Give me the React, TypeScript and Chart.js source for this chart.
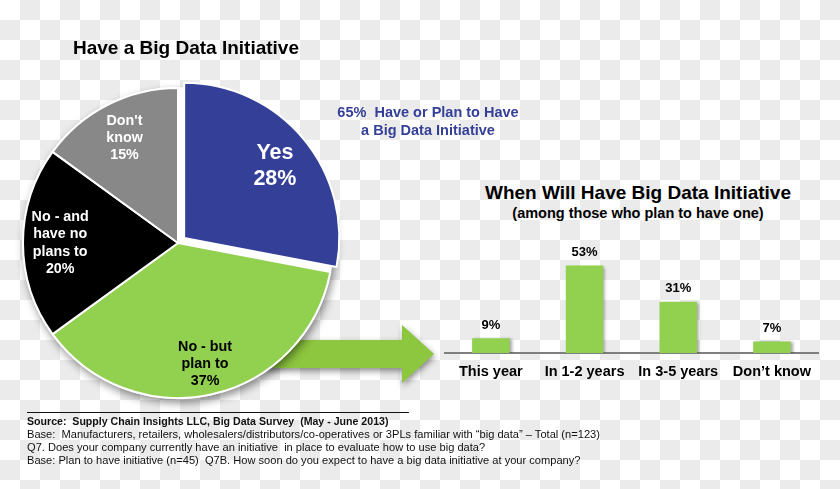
import React, { useEffect, useRef } from "react";
import { Chart, registerables } from "chart.js";

Chart.register(...registerables);

const FONT = '"Liberation Sans", Arial, Helvetica, sans-serif';

// ---- Pie data ----
const pieCategories = ["Yes", "No - but plan to", "No - and have no plans to", "Don't know"];
const pieValues = [28, 37, 20, 15];
const pieLabelLines = [["Yes"], ["No - but", "plan to"], ["No - and", "have no", "plans to"], ["Don't", "know"]];
const pieColors = ["#343F97", "#92D050", "#000000", "#888888"];
const pieTextColors = ["#ffffff", "#000000", "#ffffff", "#ffffff"];
const pieExplode = [8, 0, 0, 0]; // visible px shift of each slice
const pieLabelRadius = [0.76, 0.8, 0.76, 0.76];
const pieLabelShiftY = [3, 0, 0, 0];

// ---- Bar data ----
const barCategories = ["This year", "In 1-2 years", "In 3-5 years", "Don\u2019t know"];
const barValues = [9, 53, 31, 7];
const barColor = "#92D050";
const barAxisMax = 60;

// ---- Texts ----
const pieTitle = "Have a Big Data Initiative";
const annotationLines = ["65%\u00a0 Have or Plan to Have", "a Big Data Initiative"];
const barTitle = "When Will Have Big Data Initiative";
const barSubtitle = "(among those who plan to have one)";
const sourceTitle = "Source:\u00a0 Supply Chain Insights LLC, Big Data Survey\u00a0 (May - June 2013)";
const sourceLines = [
  "Base:\u00a0 Manufacturers, retailers, wholesalers/distributors/co-operatives or 3PLs familiar with \u201cbig data\u201d \u2013 Total (n=123)",
  "Q7. Does your company currently have an initiative\u00a0 in place to evaluate how to use big data?",
  "Base: Plan to have initiative (n=45)\u00a0 Q7B. How soon do you expect to have a big data initiative at your company?",
];

const piePlugin = {
  id: "pieDecor",
  beforeDatasetsDraw(chart: any) {
    const meta = chart.getDatasetMeta(0);
    const el = meta.data[1];
    if (!el) return;
    const { x, y, outerRadius } = el.getProps(["x", "y", "outerRadius"], true);
    const ctx = chart.ctx;
    ctx.save();
    ctx.shadowColor = "rgba(0,0,0,0.45)";
    ctx.shadowBlur = 8;
    ctx.shadowOffsetX = 2;
    ctx.shadowOffsetY = 4;
    ctx.beginPath();
    ctx.arc(x, y, outerRadius + 1, 0, Math.PI * 2);
    ctx.fillStyle = "#ffffff";
    ctx.fill();
    ctx.restore();
  },
  afterDatasetsDraw(chart: any) {
    const meta = chart.getDatasetMeta(0);
    const ctx = chart.ctx;
    meta.data.forEach((el: any, i: number) => {
      const { x, y, startAngle, endAngle, outerRadius } = el.getProps(
        ["x", "y", "startAngle", "endAngle", "outerRadius"],
        true
      );
      const mid = (startAngle + endAngle) / 2;
      const r = outerRadius * pieLabelRadius[i] + pieExplode[i];
      const cx = x + Math.cos(mid) * r;
      const cy = y + Math.sin(mid) * r + pieLabelShiftY[i];
      const lines = [...pieLabelLines[i], pieValues[i] + "%"];
      const big = i === 0;
      const fs = big ? 21.5 : 14.3;
      const lh = big ? 26 : 17.3;
      ctx.save();
      ctx.font = `bold ${fs}px ${FONT}`;
      ctx.fillStyle = pieTextColors[i];
      ctx.textAlign = "center";
      ctx.textBaseline = "middle";
      lines.forEach((t, k) => ctx.fillText(t, cx, cy + (k - (lines.length - 1) / 2) * lh));
      ctx.restore();
    });
  },
};

const barPlugin = {
  id: "barDecor",
  beforeDatasetsDraw(chart: any) {
    const ctx = chart.ctx;
    ctx.save();
    ctx.shadowColor = "rgba(0,0,0,0.35)";
    ctx.shadowBlur = 3;
    ctx.shadowOffsetX = 2;
    ctx.shadowOffsetY = 1;
  },
  afterDatasetsDraw(chart: any) {
    const ctx = chart.ctx;
    ctx.restore();
    const meta = chart.getDatasetMeta(0);
    ctx.save();
    ctx.font = `bold 13px ${FONT}`;
    ctx.fillStyle = "#000";
    ctx.textAlign = "center";
    ctx.textBaseline = "middle";
    meta.data.forEach((bar: any, i: number) => {
      const { x, y } = bar.getProps(["x", "y"], true);
      ctx.fillText(barValues[i] + "%", x, y - 13);
    });
    ctx.restore();
  },
};

function PieChart() {
  const ref = useRef<HTMLCanvasElement>(null);
  useEffect(() => {
    const chart = new Chart(ref.current!, {
      type: "pie",
      data: {
        labels: pieCategories,
        datasets: [
          {
            data: pieValues,
            backgroundColor: pieColors,
            borderColor: "#ffffff",
            borderWidth: 2,
            // Chart.js 4 translates an arc by offset / 4
            offset: pieExplode.map((v) => v * 4),
          } as any,
        ],
      },
      options: {
        responsive: false,
        animation: false,
        devicePixelRatio: 1,
        events: [],
        radius: 155,
        layout: { padding: 0 },
        plugins: { legend: { display: false }, tooltip: { enabled: false } },
      } as any,
      plugins: [piePlugin],
    });
    return () => chart.destroy();
  }, []);
  return (
    <canvas
      ref={ref}
      width={356}
      height={406}
      style={{ position: "absolute", left: 0, top: 40, width: 356, height: 406, zIndex: 1 }}
    />
  );
}

function BarChart() {
  const ref = useRef<HTMLCanvasElement>(null);
  useEffect(() => {
    const chart = new Chart(ref.current!, {
      type: "bar",
      data: {
        labels: barCategories,
        datasets: [
          {
            data: barValues,
            backgroundColor: barColor,
            borderWidth: 0,
            barPercentage: 0.4,
            categoryPercentage: 1,
          },
        ],
      },
      options: {
        responsive: false,
        animation: false,
        devicePixelRatio: 1,
        events: [],
        layout: { padding: { top: 24, left: 0, right: 0, bottom: 0 } },
        plugins: { legend: { display: false }, tooltip: { enabled: false }, title: { display: false } },
        scales: {
          x: {
            grid: { display: false, drawTicks: false },
            border: { display: true, color: "#7f7f7f", width: 2 },
            ticks: {
              color: "#000",
              padding: 10,
              maxRotation: 0,
              autoSkip: false,
              font: { family: FONT, size: 14.5, weight: "bold" },
            },
            afterFit: (scale: any) => {
              scale.height = 30;
            },
          },
          y: { display: false, min: 0, max: barAxisMax },
        },
      } as any,
      plugins: [barPlugin],
    });
    return () => chart.destroy();
  }, []);
  return (
    <canvas
      ref={ref}
      width={377}
      height={153}
      style={{ position: "absolute", left: 444, top: 230, width: 377, height: 153, zIndex: 1 }}
    />
  );
}

export default function App() {
  const text = (s: React.CSSProperties): React.CSSProperties => ({
    position: "absolute",
    fontFamily: FONT,
    whiteSpace: "nowrap",
    zIndex: 2,
    ...s,
  });
  return (
    <div
      style={{
        position: "absolute",
        left: 0,
        top: 0,
        width: 840,
        height: 489,
        overflow: "hidden",
        backgroundColor: "#ffffff",
        backgroundImage:
          "conic-gradient(#ebebeb 25%, transparent 0 50%, #ebebeb 0 75%, transparent 0)",
        backgroundSize: "40px 40px",
      }}
    >
      <svg
        width={840}
        height={489}
        style={{
          position: "absolute",
          left: 0,
          top: 0,
          zIndex: 0,
          filter: "drop-shadow(1px 3px 3px rgba(0,0,0,0.45))",
        }}
      >
        <polygon points="265,340 402,340 402,325 434,354 402,383 402,368 265,368" fill="#8DC63F" />
      </svg>
      <PieChart />
      <BarChart />
      <div style={text({ left: 0, width: 372, top: 37, fontSize: 19, lineHeight: "22px", fontWeight: "bold", textAlign: "center", color: "#000" })}>
        {pieTitle}
      </div>
      <div style={text({ left: 328, width: 200, top: 103, fontSize: 14.5, lineHeight: "18px", fontWeight: "bold", textAlign: "center", color: "#343F97" })}>
        {annotationLines.map((l, i) => (
          <div key={i}>{l}</div>
        ))}
      </div>
      <div style={text({ left: 438, width: 400, top: 182, fontSize: 19, lineHeight: "22px", fontWeight: "bold", textAlign: "center", color: "#000" })}>
        {barTitle}
      </div>
      <div style={text({ left: 438, width: 400, top: 204.5, fontSize: 14.5, lineHeight: "17px", fontWeight: "bold", textAlign: "center", color: "#000" })}>
        {barSubtitle}
      </div>
      <div style={{ position: "absolute", left: 27, top: 412, width: 382, height: 1, background: "#111", zIndex: 2 }} />
      <div style={text({ left: 27, top: 414.5, fontSize: 10.6, lineHeight: "13px", fontWeight: "bold", color: "#111" })}>
        {sourceTitle}
      </div>
      {sourceLines.map((l, i) => (
        <div
          key={i}
          style={text({ left: 27, top: 427.5 + i * 13, fontSize: 11.1, lineHeight: "13px", color: "#111" })}
        >
          {l}
        </div>
      ))}
    </div>
  );
}
